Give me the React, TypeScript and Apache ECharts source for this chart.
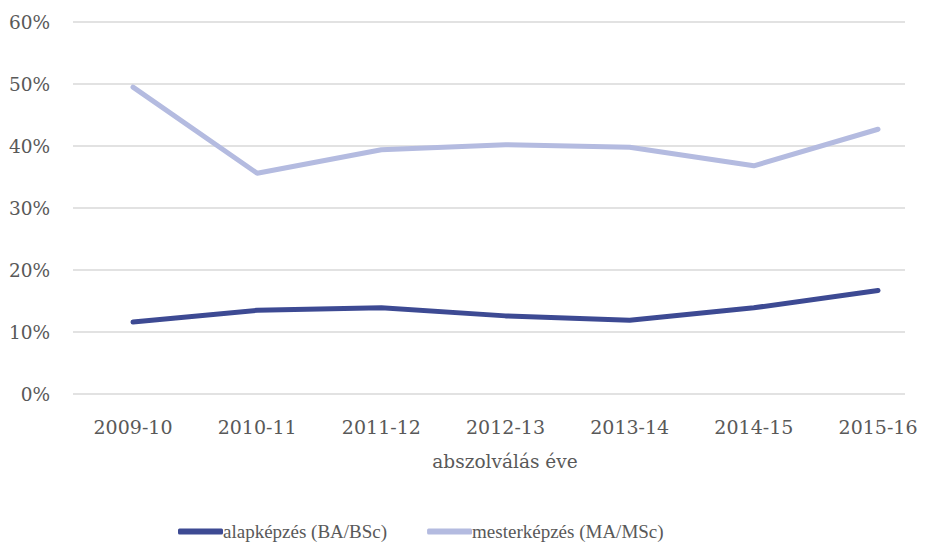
import React, { useEffect, useRef } from "react";
import * as echarts from "echarts";

const categories = ["2009-10", "2010-11", "2011-12", "2012-13", "2013-14", "2014-15", "2015-16"];
const alapValues = [11.6, 13.5, 13.9, 12.6, 11.9, 13.9, 16.7];
const mesterValues = [49.5, 35.6, 39.4, 40.2, 39.8, 36.8, 42.7];
const yTicks = [0, 10, 20, 30, 40, 50, 60];
const seriesNames = ["alapképzés (BA/BSc)", "mesterképzés (MA/MSc)"];
const xAxisTitle = "abszolválás éve";

export default function App() {
  const ref = useRef<HTMLDivElement>(null);
  useEffect(() => {
    if (!ref.current) return;
    const chart = echarts.init(ref.current, null, { renderer: "svg" });
    const axisFont = "DejaVu Serif";
    const yMin = yTicks[0];
    const yMax = yTicks[yTicks.length - 1];
    const idx = categories.map((_, i) => i);
    const toPairs = (vals: number[]) => vals.map((v, i) => [i, v]);
    chart.setOption({
      animation: false,
      grid: { left: 73, right: 26, top: 22, bottom: 149, containLabel: false },
      legend: {
        top: 517,
        left: 173,
        itemWidth: 45,
        itemHeight: 6,
        itemGap: 40,
        icon: "roundRect",
        textStyle: { fontFamily: "Liberation Serif", fontSize: 19, color: "#595959", padding: [0, 0, 0, -5] },
        data: seriesNames,
      },
      xAxis: {
        type: "value",
        min: -0.4832,
        max: 6.2174,
        axisLine: { show: false },
        axisTick: { show: false },
        splitLine: { show: false },
        axisLabel: {
          fontFamily: axisFont,
          fontSize: 19,
          color: "#595959",
          margin: 23,
          customValues: idx,
          showMinLabel: true,
          showMaxLabel: true,
          hideOverlap: false,
          formatter: (v: number) => categories[Math.round(v)] ?? "",
        },
        name: xAxisTitle,
        nameLocation: "middle",
        nameGap: 58,
        nameTextStyle: { fontFamily: axisFont, fontSize: 18.5, color: "#595959", padding: [0, 0, 0, 32] },
      },
      yAxis: {
        type: "value",
        min: yMin,
        max: yMax,
        interval: 10,
        axisLine: { show: false },
        axisTick: { show: false },
        splitLine: { lineStyle: { color: "#D9D9D9", width: 1.5 } },
        axisLabel: { fontFamily: axisFont, fontSize: 18.5, color: "#595959", margin: 23, formatter: "{value}%" },
      },
      series: [
        {
          name: seriesNames[0],
          type: "line",
          data: toPairs(alapValues),
          symbol: "none",
          itemStyle: { color: "#3D4A93" },
          lineStyle: { color: "#3D4A93", width: 5, cap: "round", join: "round" },
        },
        {
          name: seriesNames[1],
          type: "line",
          data: toPairs(mesterValues),
          symbol: "none",
          itemStyle: { color: "#B4BBE0" },
          lineStyle: { color: "#B4BBE0", width: 5, cap: "round", join: "round" },
        },
      ],
    });
    return () => chart.dispose();
  }, []);
  return <div ref={ref} style={{ width: 931, height: 543, position: "absolute", left: 0, top: 0 }} />;
}
